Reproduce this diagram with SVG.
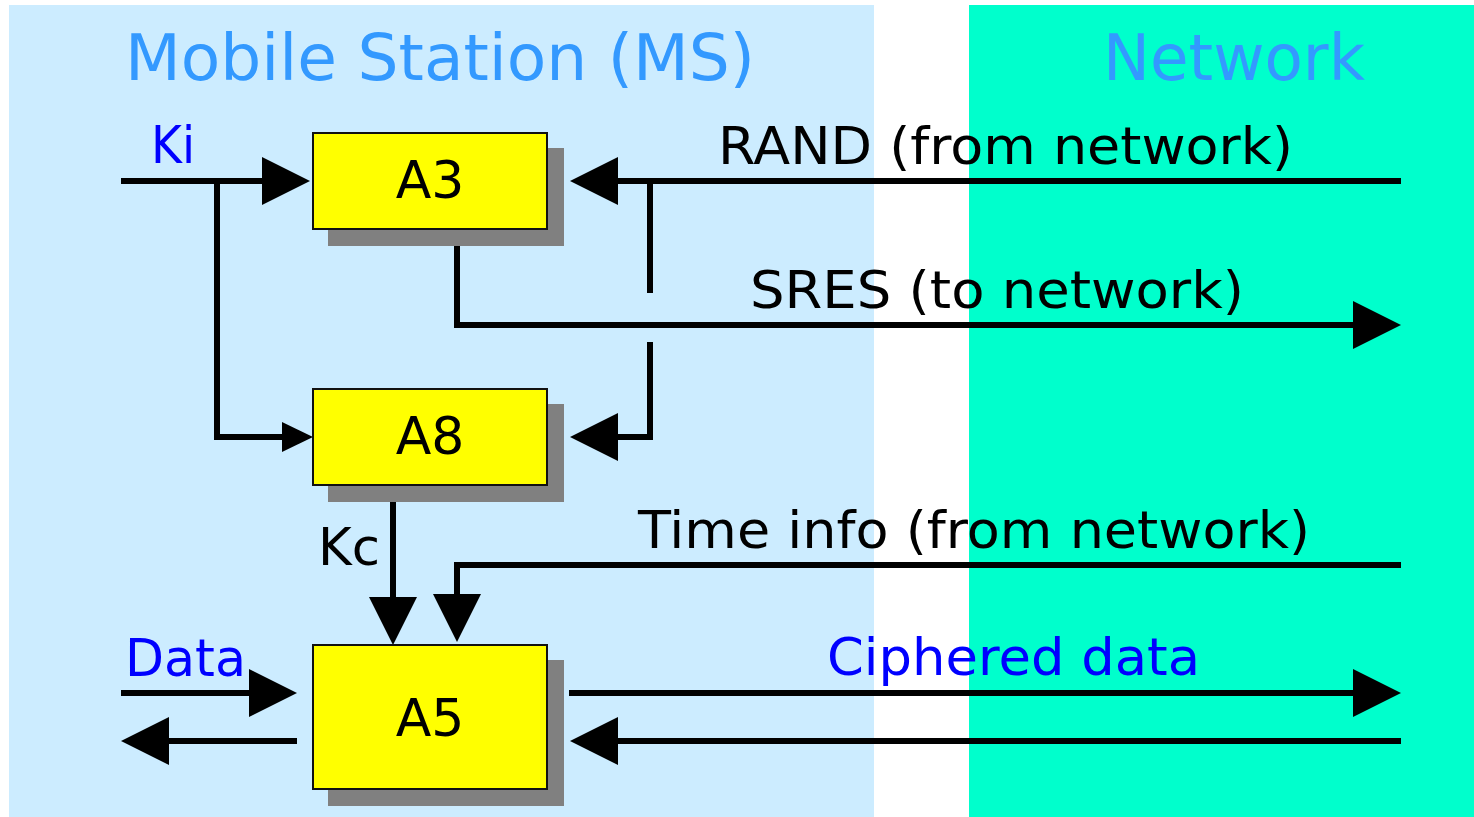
<svg xmlns="http://www.w3.org/2000/svg" width="1474" height="817" viewBox="0 0 1474 817">
  <style>
    .lbl { font-family: "DejaVu Sans", Verdana, sans-serif; font-size: 52px; }
    .title { font-family: "DejaVu Sans", Verdana, sans-serif; font-size: 64px; fill: #3399FF; }
    .black { fill: #000000; }
    .blue { fill: #0000FF; }
    .box { fill: #FFFF00; stroke: #111111; stroke-width: 2; }
    .shadow { fill: #808080; }
    .wire { fill: none; stroke: #000000; stroke-width: 6; stroke-linejoin: miter; stroke-linecap: butt; }
    .big { marker-end: url(#head); }
    .small { marker-end: url(#headSmall); }
  </style>
  <defs>
    <marker id="head" markerUnits="userSpaceOnUse" markerWidth="48" markerHeight="48" refX="0" refY="24" orient="auto" overflow="visible">
      <path d="M0,0 L48,24 L0,48 Z" fill="#000000"/>
    </marker>
    <marker id="headSmall" markerUnits="userSpaceOnUse" markerWidth="31" markerHeight="30" refX="0" refY="15" orient="auto" overflow="visible">
      <path d="M0,0 L31,15 L0,30 Z" fill="#000000"/>
    </marker>
  </defs>

  <!-- background panels -->
  <rect x="0" y="0" width="1474" height="817" fill="#FFFFFF"/>
  <rect x="9" y="5" width="865" height="812" fill="#CCECFF"/>
  <rect x="969" y="5" width="505" height="812" fill="#00FFCC"/>

  <text class="title" x="125" y="80" textLength="630" lengthAdjust="spacingAndGlyphs">Mobile Station (MS)</text>
  <text class="title" x="1103" y="80" textLength="262" lengthAdjust="spacingAndGlyphs">Network</text>

  <!-- connectors -->
  <g id="connectors">
    <!-- Ki into A3, branch down into A8 -->
    <path class="wire big" d="M121,181 H262"/>
    <path class="wire small" d="M217,181 V437 H282"/>
    <!-- RAND into A3, branch down into A8 -->
    <path class="wire big" d="M1401,181 H618"/>
    <path class="wire" d="M650,181 V293"/>
    <path class="wire big" d="M650,342 V437 H618"/>
    <!-- SRES out of A3 -->
    <path class="wire big" d="M457,245 V325 H1353"/>
    <!-- Kc from A8 into A5 -->
    <path class="wire big" d="M393,501 V597"/>
    <!-- Time info into A5 -->
    <path class="wire big" d="M1401,565 H457 V594"/>
    <!-- plain data in / out -->
    <path class="wire big" d="M121,693 H249"/>
    <path class="wire big" d="M297,741 H169"/>
    <!-- ciphered data out / in -->
    <path class="wire big" d="M569,693 H1353"/>
    <path class="wire big" d="M1401,741 H618"/>
  </g>

  <!-- connector labels -->
  <g id="labels">
    <text class="lbl blue" x="151" y="163" textLength="44" lengthAdjust="spacingAndGlyphs">Ki</text>
    <text class="lbl black" x="718" y="164" textLength="575" lengthAdjust="spacingAndGlyphs">RAND (from network)</text>
    <text class="lbl black" x="750" y="308" textLength="494" lengthAdjust="spacingAndGlyphs">SRES (to network)</text>
    <text class="lbl black" x="318" y="565" textLength="62" lengthAdjust="spacingAndGlyphs">Kc</text>
    <text class="lbl black" x="638" y="548" textLength="672" lengthAdjust="spacingAndGlyphs">Time info (from network)</text>
    <text class="lbl blue" x="125" y="676" textLength="121" lengthAdjust="spacingAndGlyphs">Data</text>
    <text class="lbl blue" x="827" y="675" textLength="373" lengthAdjust="spacingAndGlyphs">Ciphered data</text>
  </g>

  <!-- algorithm blocks -->
  <g id="A3">
    <rect class="shadow" x="328" y="148" width="236" height="98"/>
    <rect class="box" x="313" y="133" width="234" height="96"/>
    <text class="lbl black" x="430" y="198" text-anchor="middle">A3</text>
  </g>
  <g id="A8">
    <rect class="shadow" x="328" y="404" width="236" height="98"/>
    <rect class="box" x="313" y="389" width="234" height="96"/>
    <text class="lbl black" x="430" y="454" text-anchor="middle">A8</text>
  </g>
  <g id="A5">
    <rect class="shadow" x="328" y="660" width="236" height="146"/>
    <rect class="box" x="313" y="645" width="234" height="144"/>
    <text class="lbl black" x="430" y="736" text-anchor="middle">A5</text>
  </g>
</svg>
